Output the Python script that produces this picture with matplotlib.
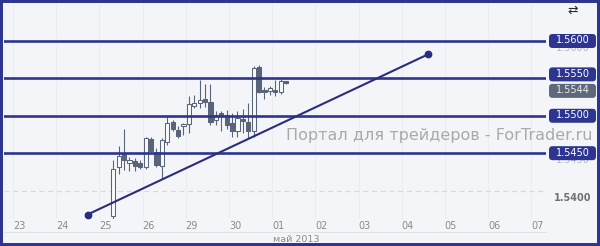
import matplotlib
matplotlib.use("Agg")
import matplotlib.pyplot as plt
from matplotlib.patches import FancyBboxPatch, Rectangle
from matplotlib.lines import Line2D
import numpy as np

plt.rcParams['font.family'] = ['DejaVu Sans']

# ---------------- data ----------------
day_labels = ["23", "24", "25", "26", "29", "30", "01", "02", "03", "04", "05", "06", "07"]
month_label = "май 2013"

opens = [1.5366, 1.5432, 1.5449, 1.5437, 1.5440, 1.5437, 1.5431, 1.5469, 1.5452, 1.5433,
         1.5465, 1.5492, 1.5481, 1.5487, 1.5489, 1.5513, 1.5517, 1.5522, 1.5519, 1.5494,
         1.5504, 1.5501, 1.5491, 1.5479, 1.5496, 1.5492, 1.5480, 1.5565, 1.5534, 1.5533,
         1.5535, 1.5532, 1.5547]
highs = [1.5441, 1.5459, 1.5482, 1.5445, 1.5443, 1.5441, 1.5472, 1.5471, 1.5457, 1.5470,
         1.5499, 1.5494, 1.5487, 1.5490, 1.5526, 1.5528, 1.5548, 1.5543, 1.5543, 1.5506,
         1.5507, 1.5508, 1.5504, 1.5506, 1.5509, 1.5517, 1.5566, 1.5568, 1.5538, 1.5540,
         1.5548, 1.5549, 1.5547]
lows = [1.5362, 1.5422, 1.5428, 1.5426, 1.5426, 1.5429, 1.5429, 1.5451, 1.5431, 1.5416,
        1.5461, 1.5480, 1.5470, 1.5474, 1.5477, 1.5510, 1.5510, 1.5512, 1.5488, 1.5488,
        1.5480, 1.5483, 1.5472, 1.5472, 1.5477, 1.5470, 1.5472, 1.5530, 1.5523, 1.5528,
        1.5526, 1.5529, 1.5542]
closes = [1.5429, 1.5446, 1.5441, 1.5441, 1.5433, 1.5432, 1.5470, 1.5453, 1.5434, 1.5467,
          1.5490, 1.5482, 1.5473, 1.5489, 1.5516, 1.5517, 1.5521, 1.5519, 1.5492, 1.5501,
          1.5500, 1.5488, 1.5479, 1.5497, 1.5493, 1.5480, 1.5564, 1.5532, 1.5532, 1.5537,
          1.5532, 1.5547, 1.5544]

levels = [1.5600, 1.5550, 1.5500, 1.5450]
axis_prices = [1.5600, 1.5450, 1.5400]
grid_price = 1.5400
last_price = 1.5544

# trend line (x in bar units, 8 bars per labelled day)
trend_x = [12.7, 75.7]
trend_y = [1.5368, 1.5582]

watermark = "Портал для трейдеров - ForTrader.ru"

BARS_PER_DAY = 8
FIRST_BAR = 17.46

# ---------------- style ----------------
W, H = 600, 246
bg = '#f4f5f9'
navy = '#2d3590'
trend_c = '#2a2d7e'
candle_c = '#596478'
hollow_c = '#f8f9fb'
text_gray = '#8a8a8a'

fig = plt.figure(figsize=(W / 100, H / 100), dpi=100)
fig.patch.set_facecolor(bg)


def fx(px):
    return px / W


def fy(py):
    return 1 - py / H


ax_top, ax_bot = 3, 219
ax = fig.add_axes([fx(4), fy(ax_bot), fx(546) - fx(4), fy(ax_top) - fy(ax_bot)])
ax.set_facecolor('none')
ax.set_xlim(-2.78, 97.59)
ax.set_ylim(1.53620, 1.56508)
for s in ax.spines.values():
    s.set_visible(False)
k = (ax.get_ylim()[1] - ax.get_ylim()[0]) / (ax_bot - ax_top)  # price per pixel

# x ticks
ticks = [BARS_PER_DAY * d for d in range(len(day_labels))]
ax.set_xticks(ticks)
ax.set_xticklabels(day_labels)
ax.tick_params(axis='x', length=0, pad=1.5, labelsize=7, labelcolor=text_gray)
ax.set_yticks([])

# faint vertical grid
ax.vlines([t - 1.1 for t in ticks], 0, 1, transform=ax.get_xaxis_transform(),
          color='#ebedf1', lw=0.8, zorder=0)

# dashed price grid
ax.axhline(grid_price, color='#e0d9cb', lw=0.9, ls=(0, (4, 3)), zorder=1)

# candles
o = np.array(opens)
h = np.array(highs)
l = np.array(lows)
c = np.array(closes)
x = FIRST_BAR + np.arange(len(o))
up = c >= o
ax.vlines(x, l, h, color=candle_c, lw=0.8, zorder=3)
body_h = np.maximum(np.abs(c - o), k * 1.0)
ax.bar(x, body_h, bottom=np.minimum(o, c), width=0.8,
       color=[hollow_c if u else candle_c for u in up],
       edgecolor=candle_c, linewidth=0.75, zorder=4)

# horizontal levels
for lv in levels:
    ax.axhline(lv, color=navy, lw=1.9, zorder=5)

# trend line
ax.plot(trend_x, trend_y, color=trend_c, lw=1.5, zorder=6, solid_capstyle='round')
ax.plot(trend_x, trend_y, 'o', color=trend_c, ms=4.6, zorder=7)

# watermark
ax.text(1.0 + (593 - 546) / 542, (1.55 + 1.545) / 2 - 1 * k, watermark,
        transform=ax.get_yaxis_transform(), ha='right', va='center',
        fontsize=11.5, color='#aaaaaa', zorder=8, clip_on=False)

# right price scale
rax = fig.add_axes([fx(546), fy(ax_bot), fx(597) - fx(546), fy(ax_top) - fy(ax_bot)])
rax.set_xlim(0, 51)
rax.set_ylim(ax.get_ylim())
rax.axis('off')
rax.patch.set_visible(False)

for p in axis_prices:
    is_grid = abs(p - grid_price) < 1e-9
    rax.text(26.5, p - 7 * k, f"{p:.4f}", ha='center', va='center',
             fontsize=7, color='#707070' if is_grid else '#b4b8c2',
             fontweight='bold' if is_grid else 'normal', zorder=2)

BADGE_H = 14


def badge(center, label, fc, tc):
    rax.add_patch(FancyBboxPatch((3, center - BADGE_H / 2 * k), 47, BADGE_H * k,
                                 boxstyle='round,pad=0,rounding_size=3.5',
                                 mutation_aspect=k, fc=fc, ec='none', zorder=5))
    rax.text(26.5, center + 0.6 * k, label, ha='center', va='center',
             fontsize=7, color=tc, zorder=6)


last_center = last_price - 8 * k
for lv in levels:
    center = lv
    # push a level badge up if it would collide with the last-price badge
    gap = center - last_center
    if 0 <= gap < (BADGE_H + 2) * k:
        center = last_center + (BADGE_H + 2.5) * k
    badge(center, f"{lv:.4f}", navy, 'white')
badge(last_center, f"{last_price:.4f}", '#5e6878', '#e8eaee')

# bottom separator and month label
fig.add_artist(Line2D([fx(4), fx(546)], [fy(232), fy(232)], color='#e2e3e8', lw=0.8))
fig.text(fx(296), fy(239), month_label, ha='center', va='center', fontsize=6.8, color=text_gray)

# top-right icon
fig.text(fx(573), fy(10), '⇄', ha='center', va='center', fontsize=9, color='#2a2a2a')

# frame
fig.add_artist(Rectangle((0, 0), 1, 1, transform=fig.transFigure, fill=False,
                         ec=navy, lw=4.3, zorder=20))

fig.savefig('out.png', dpi=100, facecolor=bg)
